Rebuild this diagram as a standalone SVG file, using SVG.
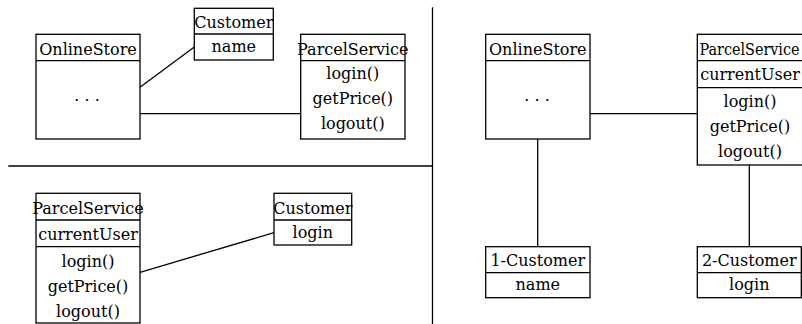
<svg xmlns="http://www.w3.org/2000/svg" width="802" height="324" viewBox="0 0 802 324">
<style>
.box{fill:none;stroke:#000;stroke-width:1.3}
.ln{stroke:#000;stroke-width:1.3;fill:none}
.t{font-family:'DejaVu Serif','Liberation Serif',serif;font-size:16px;fill:#000;text-anchor:middle}
</style>
<rect width="802" height="324" fill="#fff"/>
<g id="separators">
<line class="ln" x1="8.3" y1="166" x2="432.5" y2="166"/>
<line class="ln" x1="432.5" y1="7.3" x2="432.5" y2="324"/>
</g>
<g id="connectors">
<line class="ln" x1="140" y1="87.3" x2="194.3" y2="47"/>
<line class="ln" x1="140" y1="113.7" x2="300.7" y2="113.7"/>
<line class="ln" x1="140" y1="272.3" x2="274" y2="232.7"/>
<line class="ln" x1="590" y1="113.7" x2="697.3" y2="113.7"/>
<line class="ln" x1="537.7" y1="139" x2="537.7" y2="246.7"/>
<line class="ln" x1="749.3" y1="165" x2="749.3" y2="246.7"/>
</g>
<g id="tl-onlinestore">
<rect class="box" x="36" y="34.3" width="104" height="104.7"/>
<line class="ln" x1="36" y1="60.7" x2="140" y2="60.7"/>
<text class="t" x="88" y="55">OnlineStore</text>
<text class="t" x="87" y="105.5">· · ·</text>
</g>
<g id="tl-customer">
<rect class="box" x="194.3" y="8.3" width="79" height="51.7"/>
<line class="ln" x1="194.3" y1="34" x2="273.3" y2="34"/>
<text class="t" x="233.8" y="28">Customer</text>
<text class="t" x="233.8" y="52">name</text>
</g>
<g id="tl-parcelservice">
<rect class="box" x="300.7" y="34.3" width="104.3" height="104.7"/>
<line class="ln" x1="300.7" y1="60.7" x2="405" y2="60.7"/>
<text class="t" x="352.8" y="55">ParcelService</text>
<text class="t" x="352.8" y="79">login()</text>
<text class="t" x="352.8" y="104">getPrice()</text>
<text class="t" x="352.8" y="129">logout()</text>
</g>
<g id="bl-parcelservice">
<rect class="box" x="36" y="193.3" width="104" height="129.7"/>
<line class="ln" x1="36" y1="220" x2="140" y2="220"/>
<line class="ln" x1="36" y1="246.7" x2="140" y2="246.7"/>
<text class="t" x="88" y="213.5">ParcelService</text>
<text class="t" x="88" y="239.5">currentUser</text>
<text class="t" x="88" y="267">login()</text>
<text class="t" x="88" y="292">getPrice()</text>
<text class="t" x="88" y="317">logout()</text>
</g>
<g id="bl-customer">
<rect class="box" x="274" y="193.3" width="77.7" height="51.7"/>
<line class="ln" x1="274" y1="220" x2="351.7" y2="220"/>
<text class="t" x="312.8" y="213.5">Customer</text>
<text class="t" x="312.8" y="238">login</text>
</g>
<g id="r-onlinestore">
<rect class="box" x="485.7" y="34.3" width="104.3" height="104.7"/>
<line class="ln" x1="485.7" y1="60.7" x2="590" y2="60.7"/>
<text class="t" x="537.8" y="55">OnlineStore</text>
<text class="t" x="537" y="105.5">· · ·</text>
</g>
<g id="r-parcelservice">
<rect class="box" x="697.3" y="34.3" width="106" height="130.7"/>
<line class="ln" x1="697.3" y1="60.7" x2="803.3" y2="60.7"/>
<line class="ln" x1="697.3" y1="87.7" x2="803.3" y2="87.7"/>
<text class="t" x="749.5" y="55" textLength="100" lengthAdjust="spacingAndGlyphs">ParcelService</text>
<text class="t" x="750" y="80">currentUser</text>
<text class="t" x="750" y="107">login()</text>
<text class="t" x="750" y="132">getPrice()</text>
<text class="t" x="750" y="157">logout()</text>
</g>
<g id="r-customer1">
<rect class="box" x="485.7" y="246.7" width="104.3" height="51"/>
<line class="ln" x1="485.7" y1="272.7" x2="590" y2="272.7"/>
<text class="t" x="537.8" y="266">1-Customer</text>
<text class="t" x="537.8" y="290">name</text>
</g>
<g id="r-customer2">
<rect class="box" x="697.3" y="246.7" width="104" height="51"/>
<line class="ln" x1="697.3" y1="272.7" x2="801.3" y2="272.7"/>
<text class="t" x="749.3" y="266">2-Customer</text>
<text class="t" x="749.3" y="290">login</text>
</g>
</svg>
